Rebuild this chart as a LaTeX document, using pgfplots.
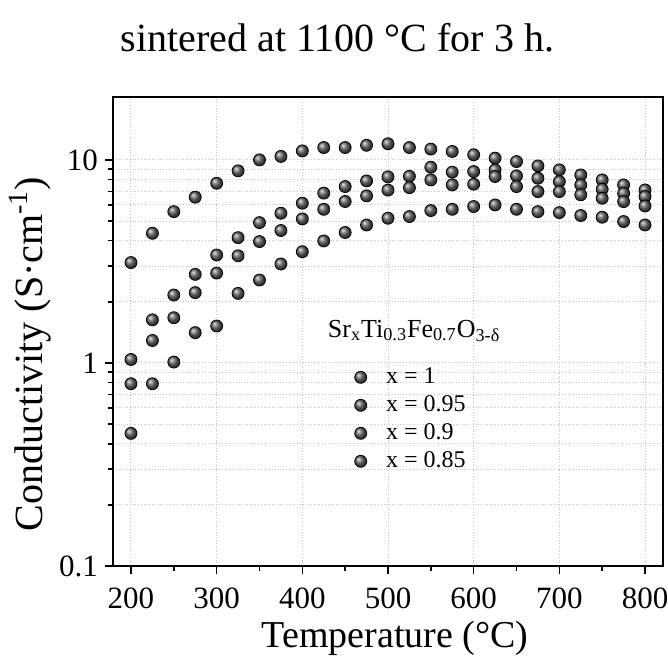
\documentclass[border=0pt]{standalone}
\usepackage{pgfplots}
\pgfplotsset{compat=1.18}
\usepackage{fontspec}
\setmainfont{Liberation Serif}

\pgfplotsset{ballpts/.style={only marks, mark=ball, mark size=3bp,
  ball color=black!60, mark options={ball color=black!60}}}

\begin{document}
\begin{tikzpicture}
\begin{axis}[
  at={(0,0)}, anchor=south west,
  scale only axis,
  width=275bp, height=234.5bp,
  ymode=log,
  xmin=179, xmax=821,
  ymin=0.1, ymax=20.4,
  xtick={200,300,...,800},
  minor x tick num=1,
  ytick={0.1,1,10},
  yticklabels={0.1,1,10},
  tick pos=left,
  tick align=outside,
  major tick length=4bp,
  minor tick length=2.5bp,
  every tick/.style={black, line width=0.8bp},
  axis line style={line width=1bp},
  xmajorgrids, ymajorgrids, yminorgrids,
  grid style={densely dotted, gray!45, line width=0.5bp},
  /pgf/number format/assume math mode=true,
  /pgf/number format/1000 sep={},
  tick label style={font=\rmfamily\fontsize{15.5bp}{18bp}\selectfont},
  x tick label style={inner sep=1bp, text depth=0pt, yshift=-5.7bp},
  label style={font=\fontsize{20bp}{24bp}\selectfont},
  xlabel={Temperature (°C)},
  ylabel={Conductivity (S·cm\textsuperscript{-1})},
  x label style={at={(axis description cs:0.513,-0.1727)}, anchor=base,
    inner sep=0pt, text height=13bp, font=\fontsize{19bp}{23bp}\selectfont},
  y label style={at={(axis description cs:-0.1273,0.452)}, anchor=base},
  legend style={draw=none, fill=none,
    font=\fontsize{12bp}{14bp}\selectfont,
    at={(axis description cs:0.438,0.433)}, anchor=north west,
    inner sep=0pt, row sep=0pt,
    nodes={inner sep=2bp, text height=8bp, text depth=2bp},
    /tikz/every odd column/.append style={column sep=7.5bp}},
  legend cell align=left,
]
\addplot[ballpts] coordinates {
 (200,3.12) (225,4.35) (250,5.56) (275,6.55) (300,7.67) (325,8.83)
 (350,10.0) (375,10.4) (400,11.07) (425,11.5) (450,11.5) (475,11.8)
 (500,12.0) (525,11.5) (550,11.3) (575,11.0) (600,10.6) (625,10.2)
 (650,9.81) (675,9.34) (700,8.93) (725,8.43) (750,7.97) (775,7.53) (800,7.11)
};
\addlegendentry{x = 1}
\addplot[ballpts] coordinates {
 (200,1.04) (225,1.63) (250,2.16) (275,2.73) (300,3.40) (325,4.14)
 (350,4.91) (375,5.46) (400,6.12) (425,6.86) (450,7.39) (475,7.88)
 (500,8.25) (525,8.3) (550,9.2) (575,8.7) (600,8.76) (625,8.93)
 (650,8.34) (675,8.12) (700,7.82) (725,7.53) (750,7.17) (775,6.85) (800,6.60)
};
\addlegendentry{x = 0.95}
\addplot[ballpts] coordinates {
 (200,0.79) (225,1.29) (250,1.67) (275,2.22) (300,2.77) (325,3.37)
 (350,3.96) (375,4.49) (400,5.12) (425,5.71) (450,6.24) (475,6.65)
 (500,7.1) (525,7.3) (550,7.97) (575,7.53) (600,7.59) (625,8.28)
 (650,7.39) (675,6.98) (700,6.98) (725,6.73) (750,6.47) (775,6.23) (800,5.93)
};
\addlegendentry{x = 0.9}
\addplot[ballpts] coordinates {
 (200,0.45) (225,0.79) (250,1.01) (275,1.41) (300,1.52) (325,2.20)
 (350,2.56) (375,3.07) (400,3.53) (425,3.99) (450,4.39) (475,4.78)
 (500,5.16) (525,5.26) (550,5.63) (575,5.71) (600,5.89) (625,6.0)
 (650,5.71) (675,5.56) (700,5.50) (725,5.32) (750,5.22) (775,4.97) (800,4.78)
};
\addlegendentry{x = 0.85}
\node[anchor=base west, font=\fontsize{13bp}{15bp}\selectfont]
  at (axis description cs:0.378,0.488)
  {Sr\textsubscript{x}Ti\textsubscript{0.3}Fe\textsubscript{0.7}O\textsubscript{3-δ}};
\end{axis}
\node[anchor=base, font=\fontsize{20bp}{24bp}\selectfont]
  at (112.25bp,257bp) {sintered at 1100 °C for 3 h.};
\pgfresetboundingbox
\useasboundingbox (-56.5bp,-45.5bp) rectangle (277.5bp,283bp);
\end{tikzpicture}
\end{document}
